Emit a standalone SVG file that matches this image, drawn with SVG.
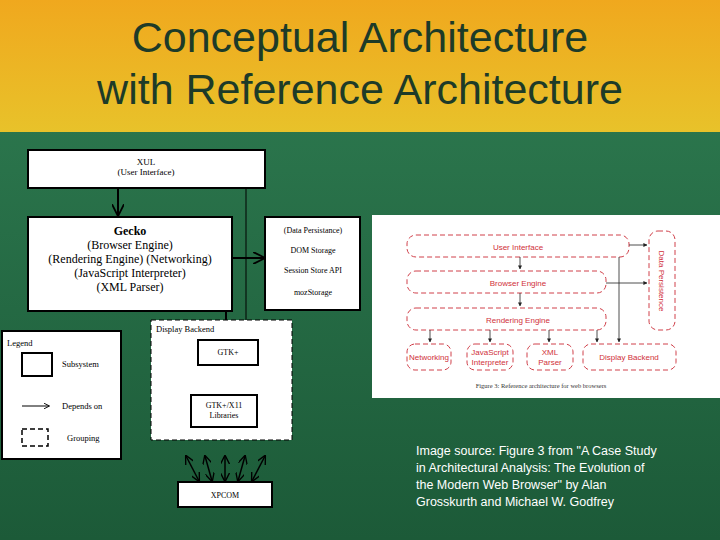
<svg xmlns="http://www.w3.org/2000/svg" width="720" height="540" viewBox="0 0 720 540">
<defs>
<linearGradient id="top" x1="0" y1="0" x2="0" y2="1"><stop offset="0" stop-color="#f0a81e"/><stop offset="1" stop-color="#e8c22a"/></linearGradient>
<linearGradient id="bg" x1="0" y1="0" x2="0" y2="1"><stop offset="0" stop-color="#2f7d52"/><stop offset="1" stop-color="#1c5a38"/></linearGradient>
<marker id="a" viewBox="0 0 10 10" refX="9" refY="5" markerWidth="6" markerHeight="6" orient="auto-start-reverse"><path d="M0,0 L10,5 L0,10" fill="none" stroke="#000" stroke-width="1.5"/></marker>
<marker id="r" viewBox="0 0 10 10" refX="9" refY="5" markerWidth="5" markerHeight="5" orient="auto"><path d="M0,0 L10,5 L0,10z" fill="#222"/></marker>
</defs>
<style>
.b{fill:#fff;stroke:#000;stroke-width:2}
.t{font-family:"Liberation Serif",serif;fill:#000;text-anchor:middle}
.rd{fill:none;stroke:#d0404a;stroke-width:1;stroke-dasharray:5 3}
.rt{font-family:"Liberation Sans",sans-serif;fill:#d0303a;font-size:8px;text-anchor:middle}
.ln{stroke:#000;fill:none}
.s{font-family:"Liberation Serif",serif;font-size:8.5px}
</style>
<rect width="720" height="540" fill="url(#bg)"/>
<rect width="720" height="132" fill="url(#top)"/>
<text x="360" y="52" font-family="Liberation Sans,sans-serif" font-size="43" fill="#1d3b28" text-anchor="middle">Conceptual Architecture</text>
<text x="360" y="104" font-family="Liberation Sans,sans-serif" font-size="43" fill="#1d3b28" text-anchor="middle">with Reference Architecture</text>

<g id="connectors">
<line class="ln" x1="118" y1="188" x2="118" y2="215" stroke-width="2" marker-end="url(#a)"/>
<line class="ln" x1="246" y1="188" x2="246" y2="339" stroke-width="1" marker-end="url(#a)"/>
<line class="ln" x1="232" y1="258" x2="264" y2="258" stroke-width="2" marker-end="url(#a)"/>
<line class="ln" x1="226" y1="311" x2="226" y2="339" stroke-width="2" marker-end="url(#a)"/>
<line class="ln" x1="226" y1="365" x2="226" y2="393" stroke-width="2" marker-end="url(#a)"/>
<line class="ln" x1="186" y1="456" x2="199" y2="481" stroke-width="1.5" marker-start="url(#a)" marker-end="url(#a)"/>
<line class="ln" x1="205" y1="456" x2="212" y2="481" stroke-width="1.5" marker-start="url(#a)" marker-end="url(#a)"/>
<line class="ln" x1="225" y1="456" x2="225" y2="481" stroke-width="1.5" marker-start="url(#a)" marker-end="url(#a)"/>
<line class="ln" x1="245" y1="456" x2="238" y2="481" stroke-width="1.5" marker-start="url(#a)" marker-end="url(#a)"/>
<line class="ln" x1="265" y1="456" x2="252" y2="481" stroke-width="1.5" marker-start="url(#a)" marker-end="url(#a)"/>
</g>

<g id="xul"><rect class="b" x="28" y="150" width="237" height="38"/>
<text class="t" x="146" y="165" font-size="9">XUL</text><text class="t" x="146" y="175" font-size="9">(User Interface)</text></g>
<g id="gecko"><rect class="b" x="28" y="217" width="204" height="94"/>
<text class="t" x="130" y="235" font-size="12" font-weight="bold">Gecko</text>
<text class="t" x="130" y="249" font-size="12">(Browser Engine)</text>
<text class="t" x="130" y="263" font-size="12">(Rendering Engine) (Networking)</text>
<text class="t" x="130" y="277" font-size="12">(JavaScript Interpreter)</text>
<text class="t" x="130" y="291" font-size="12">(XML Parser)</text></g>
<g id="data"><rect class="b" x="265" y="217" width="95" height="93"/>
<text class="t" x="313" y="233" font-size="8">(Data Persistance)</text>
<text class="t" x="313" y="253" font-size="8">DOM Storage</text>
<text class="t" x="313" y="273" font-size="8">Session Store API</text>
<text class="t" x="313" y="295" font-size="8">mozStorage</text></g>
<g id="display"><rect x="151" y="320" width="141" height="120" fill="#fff" stroke="#000" stroke-dasharray="5 3"/>
<text class="s" x="156" y="332">Display Backend</text></g>
<g id="gtk"><rect class="b" x="198" y="340" width="60" height="25"/><text class="t" x="228" y="355" font-size="8">GTK+</text></g>
<g id="x11"><rect class="b" x="191" y="395" width="66" height="32"/><text class="t" x="224" y="408" font-size="8">GTK+/X11</text><text class="t" x="224" y="418" font-size="8">Libraries</text></g>
<g id="legend"><rect class="b" x="2" y="331" width="119" height="128" stroke-width="1"/>
<text class="s" x="7" y="346">Legend</text>
<rect class="b" x="22" y="353" width="30" height="23"/>
<text class="s" x="62" y="367">Subsystem</text>
<line class="ln" x1="22" y1="406" x2="49" y2="406" stroke-width="1" marker-end="url(#a)"/>
<text class="s" x="62" y="409">Depends on</text>
<rect x="22" y="429" width="26" height="17" fill="none" stroke="#000" stroke-width="1.5" stroke-dasharray="5 3"/>
<text class="s" x="67" y="441">Grouping</text></g>
<g id="xpcom"><rect class="b" x="178" y="482" width="94" height="25"/><text class="t" x="225" y="498" font-size="8">XPCOM</text></g>

<g id="reference">
<rect x="372" y="215" width="348" height="183" fill="#fff"/>
<rect class="rd" x="407" y="235" width="222" height="22" rx="9"/><text class="rt" x="518" y="250">User Interface</text>
<rect class="rd" x="407" y="271" width="199" height="22" rx="9"/><text class="rt" x="518" y="286">Browser Engine</text>
<rect class="rd" x="407" y="308" width="199" height="22" rx="9"/><text class="rt" x="518" y="323">Rendering Engine</text>
<rect class="rd" x="649" y="231" width="26" height="99" rx="9"/><text class="rt" transform="translate(659,281) rotate(90)">Data Persistence</text>
<rect class="rd" x="407" y="344" width="44" height="26" rx="8"/><text class="rt" x="429" y="360">Networking</text>
<rect class="rd" x="467" y="344" width="46" height="26" rx="8"/><text class="rt" x="490" y="355">JavaScript</text><text class="rt" x="490" y="365">Interpreter</text>
<rect class="rd" x="527" y="344" width="46" height="26" rx="8"/><text class="rt" x="550" y="355">XML</text><text class="rt" x="550" y="365">Parser</text>
<rect class="rd" x="583" y="344" width="93" height="26" rx="8"/><text class="rt" x="629" y="360" font-size="9">Display Backend</text>
<g stroke="#222" stroke-width="0.8" fill="none">
<line x1="629" y1="245" x2="647" y2="245" marker-end="url(#r)"/>
<line x1="606" y1="283" x2="647" y2="283" marker-end="url(#r)"/>
<line x1="619" y1="257" x2="619" y2="342" marker-end="url(#r)"/>
<line x1="520" y1="257" x2="520" y2="269" marker-end="url(#r)"/>
<line x1="520" y1="293" x2="520" y2="306" marker-end="url(#r)"/>
<line x1="430" y1="330" x2="430" y2="342" marker-end="url(#r)"/>
<line x1="490" y1="330" x2="490" y2="342" marker-end="url(#r)"/>
<line x1="549" y1="330" x2="549" y2="342" marker-end="url(#r)"/>
<line x1="597" y1="330" x2="597" y2="342" marker-end="url(#r)"/>
</g>
<text x="541" y="388" font-family="Liberation Serif,serif" font-size="6.5" fill="#333" text-anchor="middle">Figure 3: Reference architecture for web browsers</text>
</g>

<g font-family="Liberation Sans,sans-serif" font-size="12.5" fill="#fff">
<text x="416" y="455">Image source: Figure 3 from "A Case Study</text>
<text x="416" y="472">in Architectural Analysis: The Evolution of</text>
<text x="416" y="489">the Modern Web Browser" by Alan</text>
<text x="416" y="506">Grosskurth and Michael W. Godfrey</text>
</g>
</svg>
